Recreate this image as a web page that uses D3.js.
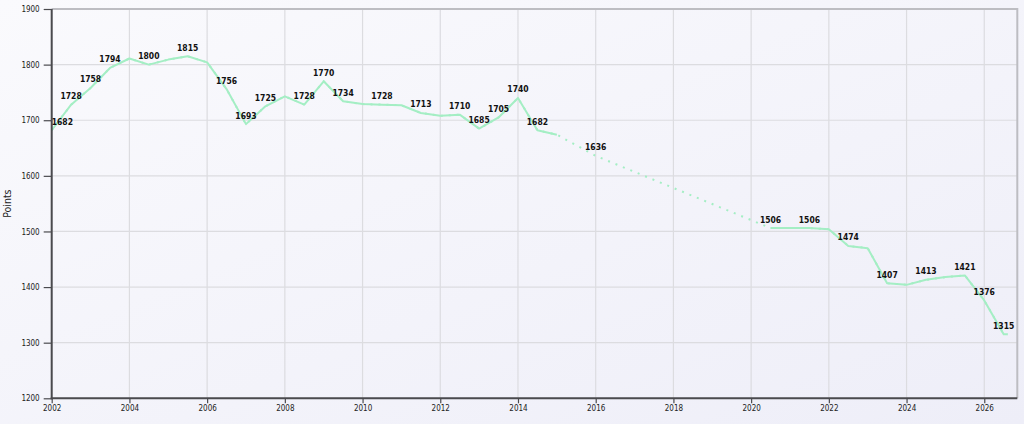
<!DOCTYPE html>
<html>
<head>
<meta charset="utf-8">
<script src="https://cdn.jsdelivr.net/npm/d3@7"></script>
<style>
  html, body { margin: 0; padding: 0; background: #f6f6fb; }
  svg { display: block; }
</style>
</head>
<body>
<script>
// half-yearly ranking points, null = no data
const years = [2002, 2002.5, 2003, 2003.5, 2004, 2004.5, 2005, 2005.5, 2006, 2006.5,
  2007, 2007.5, 2008, 2008.5, 2009, 2009.5, 2010, 2010.5, 2011, 2011.5,
  2012, 2012.5, 2013, 2013.5, 2014, 2014.5, 2015, 2015.5, 2016, 2016.5,
  2017, 2017.5, 2018, 2018.5, 2019, 2019.5, 2020, 2020.5, 2021, 2021.5,
  2022, 2022.5, 2023, 2023.5, 2024, 2024.5, 2025, 2025.5, 2026, 2026.5, 2026.6];
const points = [1682, 1728, 1758, 1794, 1811, 1800, 1809, 1815, 1804, 1756,
  1693, 1725, 1743, 1728, 1770, 1734, 1729, 1728, 1727, 1713,
  1708, 1710, 1685, 1705, 1740, 1682, 1674, null, 1636, null,
  null, null, null, null, null, null, null, 1506, 1506, 1506,
  1504, 1474, 1470, 1407, 1404, 1413, 1418, 1421, 1376, 1315, 1315];
// value labels shown on the chart (null = no label)
const labels = ["1682", "1728", "1758", "1794", null, "1800", null, "1815", null, "1756",
  "1693", "1725", null, "1728", "1770", "1734", null, "1728", null, "1713",
  null, "1710", "1685", "1705", "1740", "1682", null, null, "1636", null,
  null, null, null, null, null, null, null, "1506", null, "1506",
  null, "1474", null, "1407", null, "1413", null, "1421", "1376", "1315", null];
const xTicks = [2002, 2004, 2006, 2008, 2010, 2012, 2014, 2016, 2018, 2020, 2022, 2024, 2026];
const yTicks = [1200, 1300, 1400, 1500, 1600, 1700, 1800, 1900];
const yTitle = "Points";

const W = 1024, H = 424;
const mLeft = 51.7, mTop = 9, mRight = 1017.3, mBottom = 398.3;

const svg = d3.select("body").append("svg").attr("width", W).attr("height", H);

const defs = svg.append("defs");
const grad = defs.append("linearGradient").attr("id", "bg")
  .attr("x1", "0").attr("y1", "0").attr("x2", "1").attr("y2", "1");
grad.append("stop").attr("offset", "0").attr("stop-color", "#fafafd");
grad.append("stop").attr("offset", "1").attr("stop-color", "#eeeef8");
svg.append("rect").attr("width", W).attr("height", H).attr("fill", "url(#bg)");

const x = d3.scaleLinear().domain([2002, 2026.85]).range([mLeft, mRight]);
const y = d3.scaleLinear().domain([1200, 1900]).range([mBottom, mTop]);

const data = years.map((yr, i) => ({ yr: yr, v: points[i], label: labels[i] }));

// grid
svg.append("g").selectAll("line").data(xTicks).join("line")
  .attr("x1", d => x(d)).attr("x2", d => x(d)).attr("y1", mTop).attr("y2", mBottom)
  .attr("stroke", "#dcdce0").attr("stroke-width", 1.2);
svg.append("g").selectAll("line").data(yTicks).join("line")
  .attr("x1", mLeft).attr("x2", mRight).attr("y1", d => y(d)).attr("y2", d => y(d))
  .attr("stroke", "#dcdce0").attr("stroke-width", 1.2);

// frame top/right
svg.append("path")
  .attr("d", `M${mLeft},${mTop}H${mRight}V${mBottom}`)
  .attr("fill", "none").attr("stroke", "#bdbdc2").attr("stroke-width", 2);

// gap line (dotted) under the solid line
const line = d3.line().x(d => x(d.yr)).y(d => y(d.v));
svg.append("path")
  .datum(data.filter(d => d.v != null))
  .attr("d", line)
  .attr("fill", "none").attr("stroke", "#a4eec4").attr("stroke-width", 2)
  .attr("stroke-dasharray", "2,6");
svg.append("path")
  .datum(data)
  .attr("d", line.defined(d => d.v != null))
  .attr("fill", "none").attr("stroke", "#a4eec4").attr("stroke-width", 2)
  .attr("stroke-linejoin", "round");

// axes
const font = "'DejaVu Sans Condensed', 'DejaVu Sans', sans-serif";
const yAxis = svg.append("g").attr("transform", `translate(${mLeft},0)`)
  .call(d3.axisLeft(y).tickValues(yTicks).tickSize(8).tickPadding(4).tickFormat(d3.format("d")));
const xAxis = svg.append("g").attr("transform", `translate(0,${mBottom})`)
  .call(d3.axisBottom(x).tickValues(xTicks).tickSize(5).tickPadding(2).tickFormat(d3.format("d")));
[xAxis, yAxis].forEach(g => {
  g.select(".domain").attr("stroke", "#4a4a4e").attr("stroke-width", 2);
  g.selectAll(".tick line").attr("stroke", "#4a4a4e").attr("stroke-width", 1.2);
  g.selectAll("text").attr("fill", "#222").style("font-family", font).style("font-size", "8px");
});
yAxis.select(".domain").attr("d", `M0,${mTop}V${mBottom + 1}`);
xAxis.select(".domain").attr("d", `M${mLeft - 1},0H${mRight}`);

svg.append("text")
  .attr("transform", `translate(10.5,${(mTop + mBottom) / 2}) rotate(-90)`)
  .attr("text-anchor", "middle")
  .style("font-family", font).style("font-size", "10.5px").attr("fill", "#222")
  .text(yTitle);

// value labels
const lab = svg.append("g").selectAll("text")
  .data(data.filter(d => d.label != null)).join("text")
  .attr("x", d => x(d.yr)).attr("y", d => y(d.v) - 5.5)
  .attr("text-anchor", "middle")
  .style("font-family", font).style("font-size", "8.5px").style("font-weight", "bold")
  .attr("fill", "#111")
  .text(d => d.label);
lab.each(function() {
  const w = this.getComputedTextLength();
  const cx = +this.getAttribute("x");
  if (cx - w / 2 < mLeft) this.setAttribute("x", mLeft + w / 2);
});
</script>
</body>
</html>
